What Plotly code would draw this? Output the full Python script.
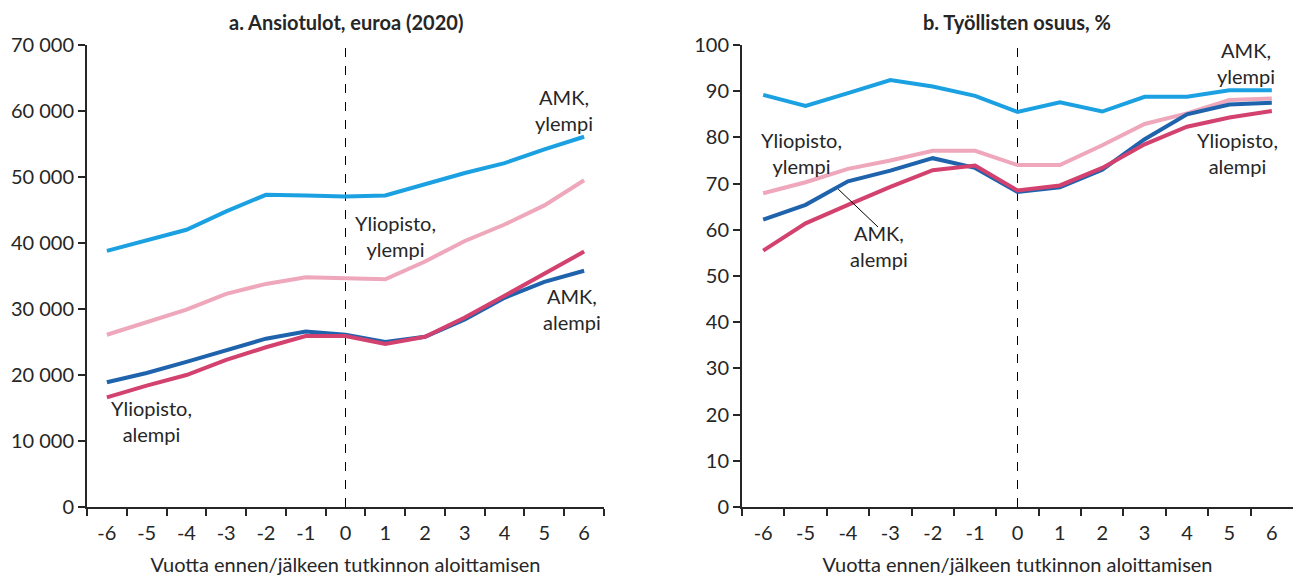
import plotly.graph_objects as go

W, H = 1299, 577

years = ["-6", "-5", "-4", "-3", "-2", "-1", "0", "1", "2", "3", "4", "5", "6"]

# Panel a: Ansiotulot, euroa (2020)
inc_amk_ylempi = [38800, 40400, 42000, 44800, 47300, 47200, 47050, 47200, 48900, 50600, 52100, 54200, 56100]
inc_yo_ylempi = [26100, 28000, 29900, 32300, 33800, 34800, 34700, 34500, 37200, 40300, 42800, 45700, 49500]
inc_amk_alempi = [18900, 20300, 22000, 23700, 25500, 26600, 26100, 25000, 25800, 28400, 31700, 34100, 35800]
inc_yo_alempi = [16600, 18400, 20000, 22300, 24200, 25900, 25900, 24700, 25800, 28700, 32000, 35400, 38700]

# Panel b: Työllisten osuus, %
emp_amk_ylempi = [89.2, 86.8, 89.6, 92.4, 91.0, 89.0, 85.5, 87.6, 85.6, 88.8, 88.8, 90.2, 90.2]
emp_yo_ylempi = [67.9, 70.3, 73.2, 75.0, 77.1, 77.1, 74.0, 74.0, 78.3, 82.9, 85.2, 88.1, 88.4]
emp_amk_alempi = [62.2, 65.4, 70.5, 72.8, 75.5, 73.4, 68.2, 69.2, 73.0, 79.6, 85.0, 87.1, 87.5]
emp_yo_alempi = [55.5, 61.4, 65.4, 69.3, 72.9, 73.9, 68.5, 69.6, 73.4, 78.5, 82.3, 84.3, 85.7]

C_AMK_Y = "#1ba1e2"
C_YO_Y = "#eea7bb"
C_AMK_A = "#1f63ad"
C_YO_A = "#d3416f"
TXT = "#262626"
FONT = "Lato"
FS = 20

fig = go.Figure()

def px_x(p):
    return p / W

def px_y(p):
    return 1 - p / H

xa_dom = [px_x(87), px_x(604)]
xb_dom = [px_x(742), px_x(1293)]
y_dom = [px_y(507), px_y(45)]

series_a = [(inc_yo_ylempi, C_YO_Y), (inc_amk_ylempi, C_AMK_Y), (inc_amk_alempi, C_AMK_A), (inc_yo_alempi, C_YO_A)]
series_b = [(emp_yo_ylempi, C_YO_Y), (emp_amk_ylempi, C_AMK_Y), (emp_amk_alempi, C_AMK_A), (emp_yo_alempi, C_YO_A)]

for vals, col in series_a:
    fig.add_trace(go.Scatter(x=years, y=vals, mode="lines", line=dict(color=col, width=4),
                             xaxis="x", yaxis="y", showlegend=False))
for vals, col in series_b:
    fig.add_trace(go.Scatter(x=years, y=vals, mode="lines", line=dict(color=col, width=4),
                             xaxis="x2", yaxis="y2", showlegend=False))

axis_common = dict(showgrid=False, zeroline=False, showline=True, linecolor=TXT, linewidth=2,
                   ticks="outside", tickcolor=TXT, tickwidth=2, ticklen=7,
                   tickfont=dict(family=FONT, size=FS, color=TXT), automargin=False)

xtitle = dict(text="Vuotta ennen/jälkeen tutkinnon aloittamisen",
              font=dict(family=FONT, size=FS, color=TXT), standoff=15)

fig.update_layout(
    width=W, height=H,
    margin=dict(l=0, r=0, t=0, b=0),
    paper_bgcolor="white", plot_bgcolor="white",
    separators=", ",
    font=dict(family=FONT, color=TXT),
    xaxis=dict(domain=xa_dom, anchor="y", type="category", categoryorder="array",
               categoryarray=years, tickson="boundaries", range=[-0.5, 12.5],
               ticklabelstandoff=7, title=xtitle, **axis_common),
    yaxis=dict(domain=y_dom, anchor="x", range=[0, 70000], dtick=10000, tickformat=",d",
               **axis_common),
    xaxis2=dict(domain=xb_dom, anchor="y2", type="category", categoryorder="array",
                categoryarray=years, tickson="boundaries", range=[-0.5, 12.5],
                ticklabelstandoff=7, title=xtitle, **axis_common),
    yaxis2=dict(domain=y_dom, anchor="x2", range=[0, 100], dtick=10, **axis_common),
)

zero_idx = years.index("0")
fig.add_shape(type="line", xref="x", yref="y", x0=zero_idx, x1=zero_idx, y0=0, y1=70000,
              line=dict(color="black", width=1, dash="dash"), layer="below")
fig.add_shape(type="line", xref="x2", yref="y2", x0=zero_idx, x1=zero_idx, y0=0, y1=100,
              line=dict(color="black", width=1, dash="dash"), layer="below")

# titles
title_font = dict(family=FONT, size=20, color=TXT)
fig.add_annotation(text="<b>a. Ansiotulot, euroa (2020)</b>", xref="paper", yref="paper",
                   x=sum(xa_dom) / 2, y=px_y(22), xanchor="center", yanchor="middle",
                   showarrow=False, font=title_font)
fig.add_annotation(text="<b>b. Työllisten osuus, %</b>", xref="paper", yref="paper",
                   x=sum(xb_dom) / 2, y=px_y(22), xanchor="center", yanchor="middle",
                   showarrow=False, font=title_font)

lab_font = dict(family=FONT, size=FS, color=TXT)
labels_a = [("AMK,<br>ylempi", 11.5, 60200), ("Yliopisto,<br>ylempi", 7.25, 41100),
            ("AMK,<br>alempi", 11.7, 30000), ("Yliopisto,<br>alempi", 1.13, 13000)]
for t, x, y in labels_a:
    fig.add_annotation(text=t, xref="x", yref="y", x=x, y=y, showarrow=False, font=lab_font)

labels_b = [("AMK,<br>ylempi", 11.4, 96.1), ("Yliopisto,<br>ylempi", 0.9, 76.6),
            ("Yliopisto,<br>alempi", 11.2, 76.6)]
for t, x, y in labels_b:
    fig.add_annotation(text=t, xref="x2", yref="y2", x=x, y=y, showarrow=False, font=lab_font)

fig.add_annotation(text="AMK,<br>alempi", xref="x2", yref="y2", x=2.74, y=56.5, showarrow=False,
                   font=lab_font)
fig.add_shape(type="line", xref="x2", yref="y2", x0=1.77, y0=68.8, x1=2.71, y1=60.6,
              line=dict(color="black", width=1))

fig.write_html("out.html", post_script="document.body.style.margin='0';",
               config={"displayModeBar": False})
